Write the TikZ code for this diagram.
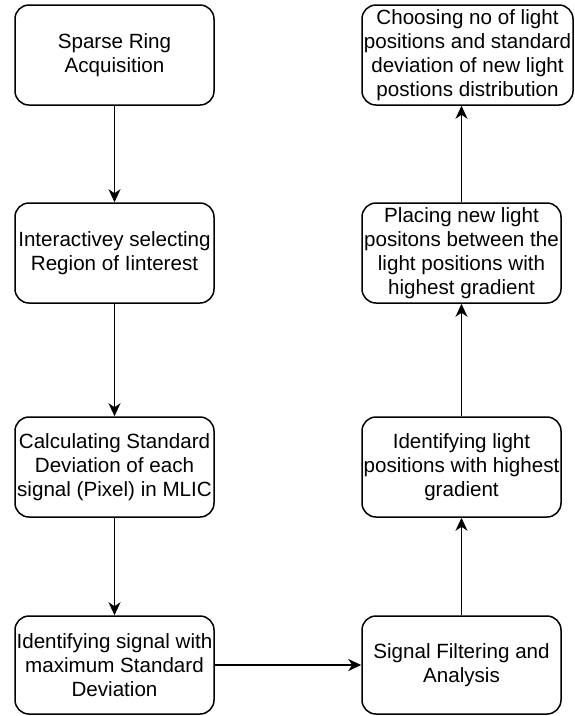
\documentclass[tikz,border=0pt]{standalone}
\usepackage{fontspec}
\setmainfont{Liberation Sans}
\usetikzlibrary{arrows.meta}
\begin{document}
\begin{tikzpicture}[x=1pt,y=-1pt,
  box/.style={draw=black, line width=1.5pt, rounded corners=14pt, fill=white,
    minimum width=199pt, minimum height=100pt, inner sep=1pt, align=center,
    font=\fontsize{20.6pt}{23.8pt}\selectfont},
  flow/.style={draw=black, line width=1.5pt, -{Stealth[length=13pt,width=12pt,inset=4pt]}}]
\useasboundingbox (0,0) rectangle (575,716);
\node[box] (l1) at (114.5,55) {Sparse Ring\\Acquisition};
\node[box] (l2) at (114.5,253) {Interactivey selecting\\Region of Iinterest};
\node[box] (l3) at (114.5,467) {Calculating Standard\\Deviation of each\\signal (Pixel) in MLIC};
\node[box, minimum height=98pt] (l4) at (114.5,665) {Identifying signal with\\maximum Standard\\Deviation};
\node[box, minimum width=211pt] (r1) at (467.5,55) {Choosing no of light\\positions and standard\\deviation of new light\\postions distribution};
\node[box] (r2) at (461.5,253) {Placing new light\\positons between the\\light positions with\\highest gradient};
\node[box] (r3) at (461.5,467) {Identifying light\\positions with highest\\gradient};
\node[box, minimum height=98pt] (r4) at (461.5,665) {Signal Filtering and\\Analysis};
\draw[flow] (l1) -- (l2);
\draw[flow] (l2) -- (l3);
\draw[flow] (l3) -- (l4);
\draw[flow] (l4) -- (r4);
\draw[flow] (r4) -- (r3);
\draw[flow] (r3) -- (r2);
\draw[flow] (r2.north) -- (r2.north |- r1.south);
\end{tikzpicture}
\end{document}
